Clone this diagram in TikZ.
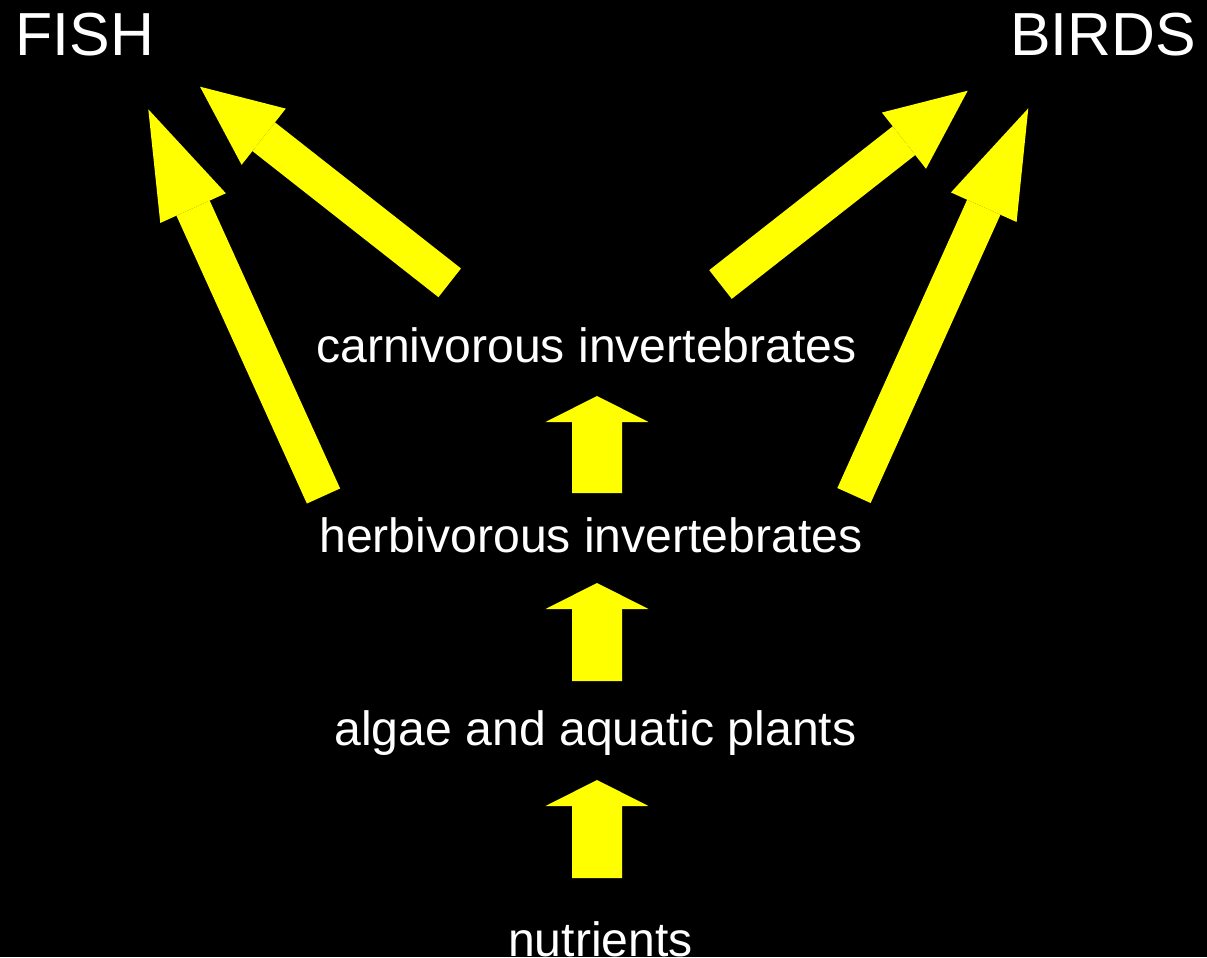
\documentclass[tikz,border=0pt]{standalone}
\usepackage{fontspec}
\setmainfont{Liberation Sans}
\usetikzlibrary{arrows.meta,calc}

\begin{document}
\begin{tikzpicture}[x=0.02cm, y=-0.02cm,
  lvl/.style={text=white, font=\fontsize{27.4}{32}\selectfont, anchor=base, inner sep=0pt},
  eater/.style={text=white, font=\fontsize{34.6}{40}\selectfont, anchor=base, inner sep=0pt},
  upar/.style={draw=fYel, line width=1cm, -{Triangle[length=0.52cm, width=2.06cm, line width=0pt]}},
  longar/.style={draw=fYel, line width=0.73cm, -{Triangle[length=2.17cm, width=1.44cm, line width=0pt]}},
  shortar/.style={draw=fYel, line width=0.73cm, -{Triangle[length=1.62cm, width=1.43cm, line width=0pt]}},
]
\definecolor{fYel}{HTML}{FFFF00}
\useasboundingbox (0,0) rectangle (1207,957);
\fill[black] (0,0) rectangle (1207,957);
% ---- levels ----
\node[eater] (fish) at (85,55) {FISH};
\node[eater] (birds) at (1103,55) {BIRDS};
\node[lvl] (carn) at (586.5,362) {carnivorous invertebrates};
\node[lvl] (herb) at (591,552) {herbivorous invertebrates};
\node[lvl] (algae) at (595.5,745) {algae and aquatic plants};
\node[lvl] (nutr) at (600.5,956) {nutrients};
% ---- upward arrows ----
\draw[upar] ($(nutr.base)+(-3.5,-78)$) -- ($(algae.base)+(1.5,35)$);
\draw[upar] ($(algae.base)+(1.5,-64)$) -- ($(herb.base)+(6,31)$);
\draw[upar] ($(herb.base)+(6,-59)$) -- ($(carn.base)+(10.5,34)$);
% ---- to fish and birds ----
\draw[longar] ($(herb.base)+(-267.5,-56)$) -- ($(fish.base)+(63.3,54.3)$);
\draw[shortar] ($(carn.base)+(-136.8,-79.2)$) -- ($(fish.base)+(115,31.7)$);
\draw[shortar] ($(carn.base)+(134,-77.5)$) -- ($(birds.base)+(-135.3,35.7)$);
\draw[longar] ($(herb.base)+(263,-56.5)$) -- ($(birds.base)+(-74.7,53.3)$);
\end{tikzpicture}
\end{document}
